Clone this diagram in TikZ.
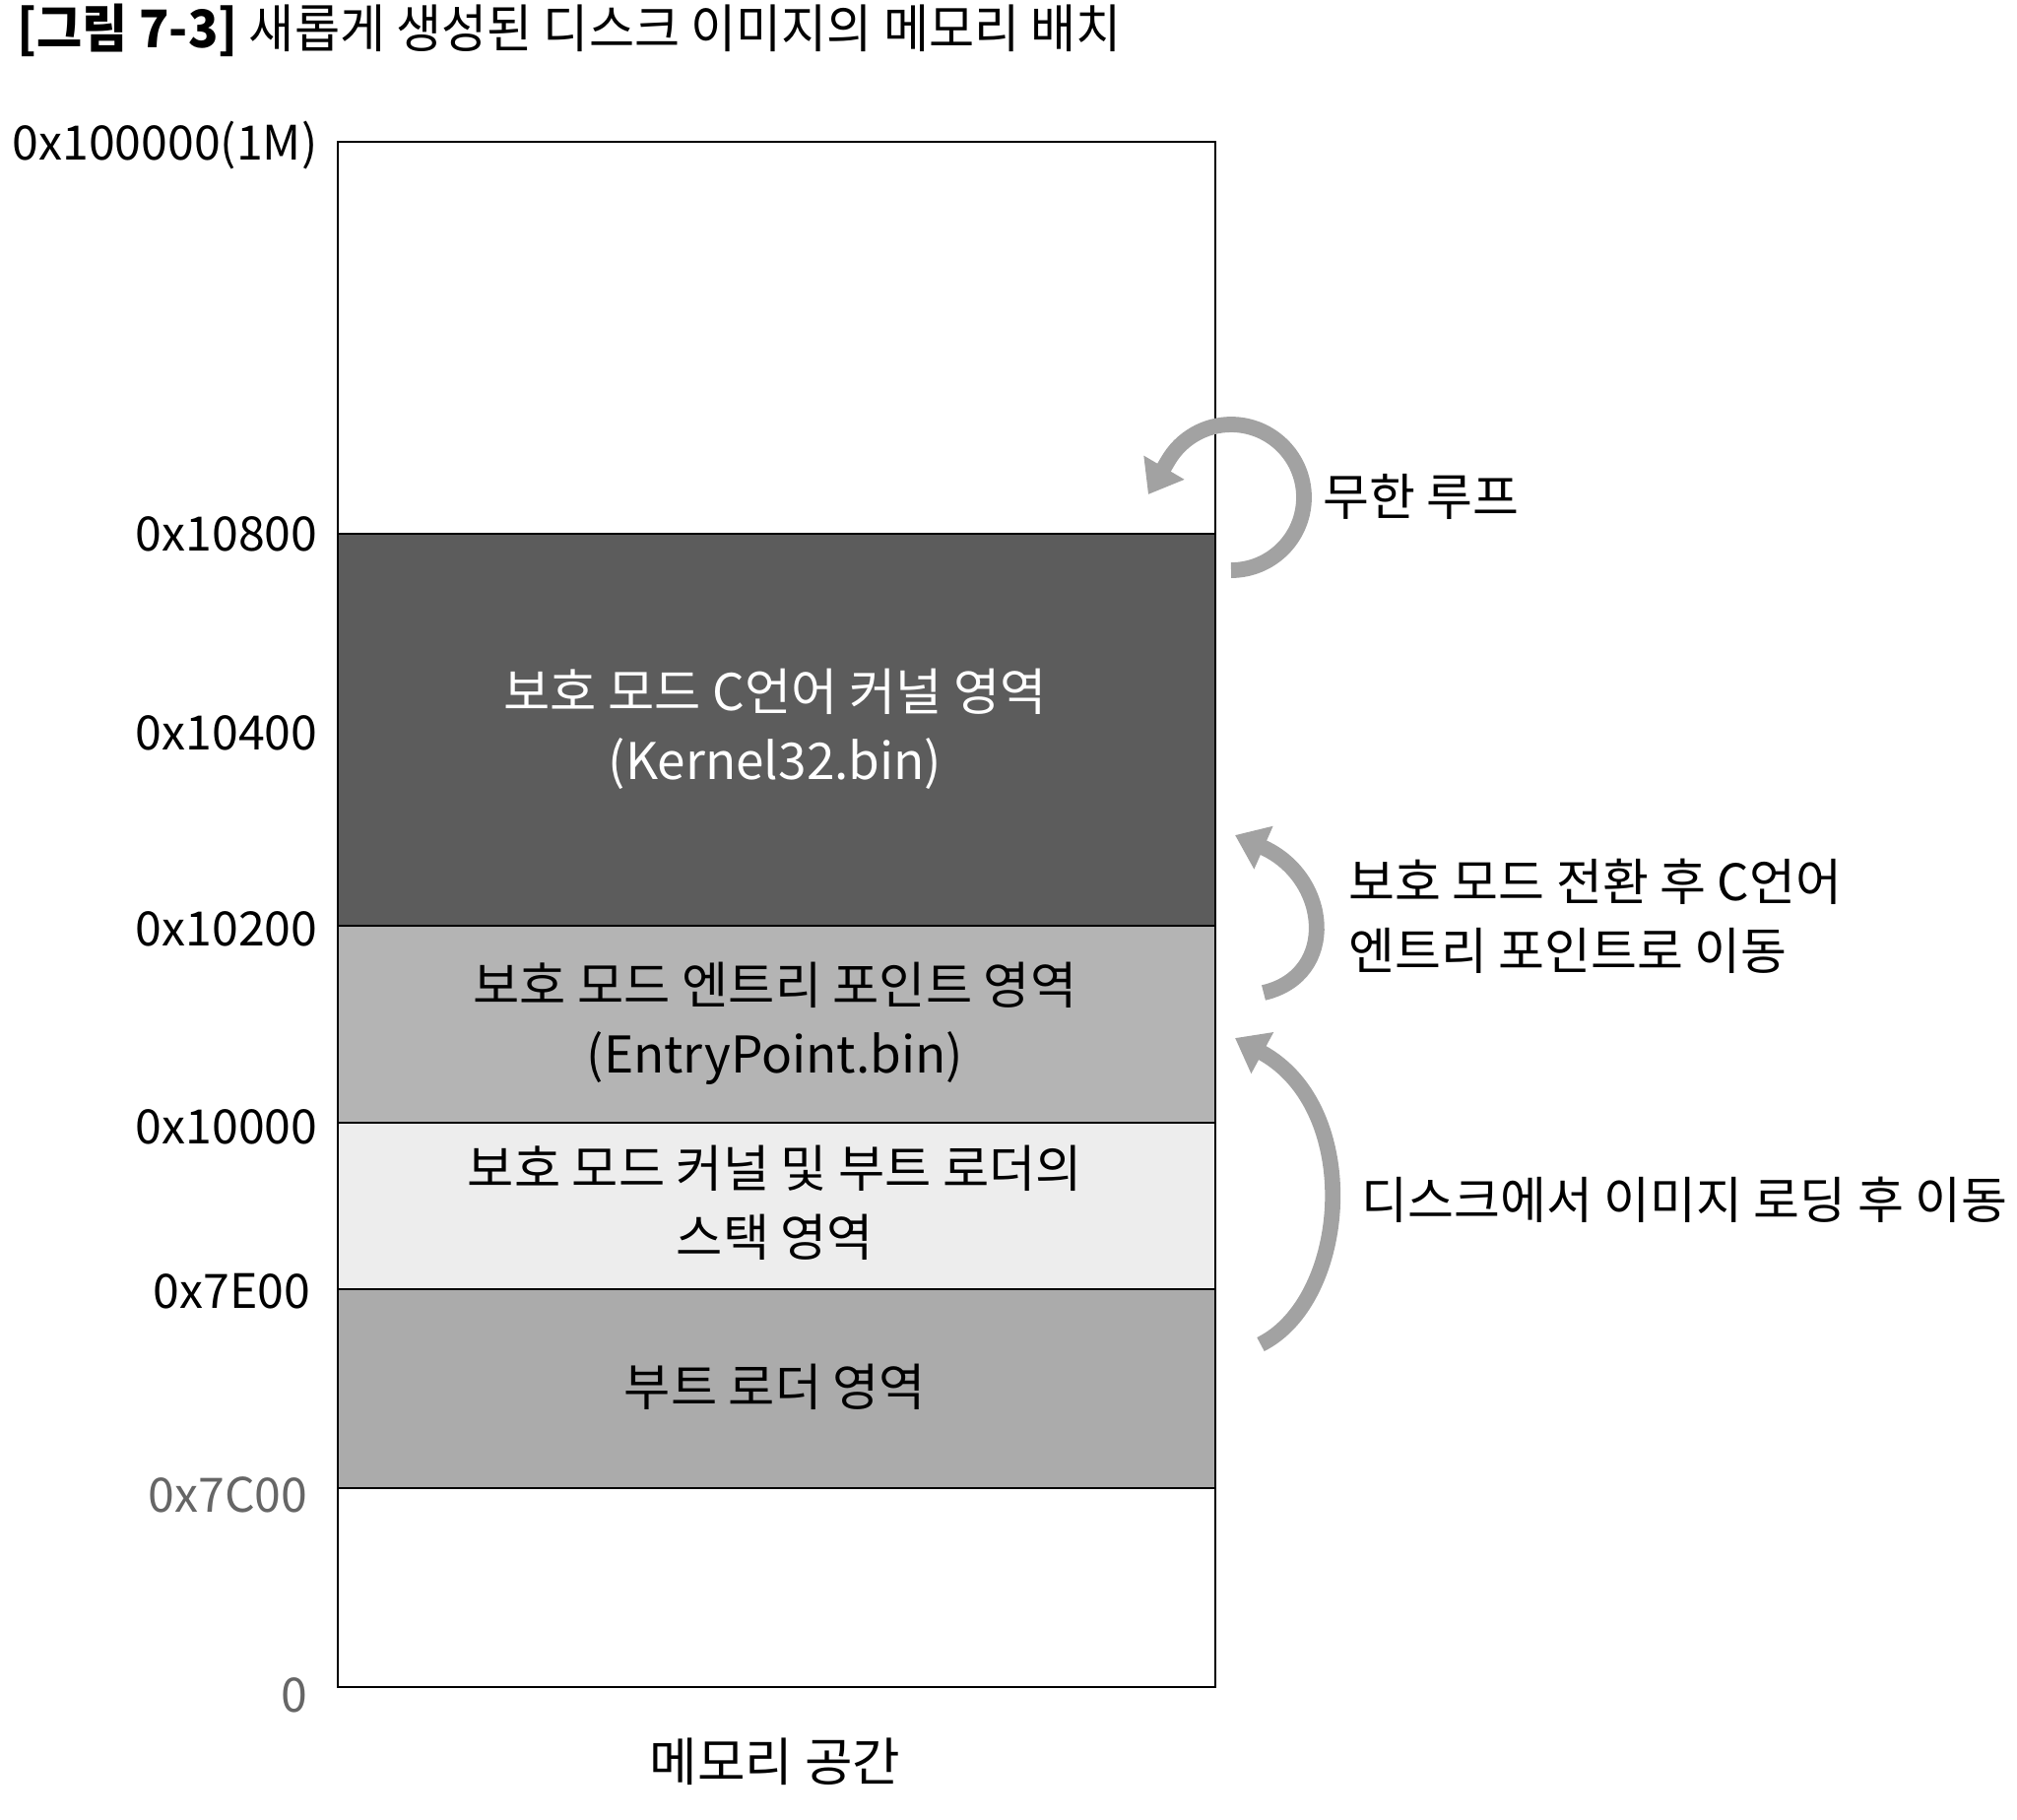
\documentclass[tikz,border=0pt]{standalone}
\usepackage{fontspec}
\setmainfont{Noto Sans CJK KR}
\usetikzlibrary{arrows.meta}

\definecolor{kernelgray}{HTML}{5C5C5C}
\definecolor{entrygray}{HTML}{B4B4B4}
\definecolor{stackgray}{HTML}{EDEDED}
\definecolor{bootgray}{HTML}{ABABAB}
\definecolor{flowgray}{HTML}{A2A2A2}

\tikzset{
    addr/.style={anchor=east, inner sep=0pt, font=\fontsize{13.7}{16}\selectfont},
    area/.style={align=center, inner sep=0pt, font=\fontsize{14.6}{19.8}\selectfont},
    note/.style={anchor=west, align=left, inner sep=0pt, font=\fontsize{14.5}{19.8}\selectfont},
    flow/.style={draw=flowgray, line width=4.5pt, -{Triangle[width=13pt,length=9pt]}},
}

\begin{document}
\begin{tikzpicture}[x=0.01cm, y=-0.01cm]

    \useasboundingbox (0,0) rectangle (2048,1847);

    % title
    \node[anchor=west, inner sep=0pt, font=\fontsize{15}{17}\selectfont] (title) at (17,31)
        {\scalebox{0.95}[1]{{\bfseries [그림 7-3]} 새롭게 생성된 디스크 이미지의 메모리 배치}};

    % memory areas
    \fill[kernelgray] (343,542) rectangle (1234,940);
    \fill[entrygray] (343,940) rectangle (1234,1140);
    \fill[stackgray] (343,1140) rectangle (1234,1309);
    \fill[bootgray] (343,1309) rectangle (1234,1511);

    \draw[line width=.8pt] (343,144) rectangle (1234,1713);
    \draw[line width=.8pt] (343,542) -- (1234,542);
    \draw[line width=.8pt] (343,940) -- (1234,940);
    \draw[line width=.8pt] (343,1140) -- (1234,1140);
    \draw[line width=.8pt] (343,1309) -- (1234,1309);
    \draw[line width=.8pt] (343,1511) -- (1234,1511);

    \node[area, text=white] (kernel) at (787,740) {보호 모드 C언어 커널 영역\\(Kernel32.bin)};
    \node[area] (entry) at (787,1039) {보호 모드 엔트리 포인트 영역\\(EntryPoint.bin)};
    \node[area] (stack) at (787,1221) {보호 모드 커널 및 부트 로더의\\스택 영역};
    \node[area] (boot) at (787,1408) {부트 로더 영역};

    \node[area, font=\fontsize{15}{18}\selectfont] (space) at (787,1789) {메모리 공간};

    % addresses
    \node[addr] (a1M) at (323,148) {0x100000(1M)};
    \node[addr] (a10800) at (323,542) {0x10800};
    \node[addr] (a10400) at (323,744) {0x10400};
    \node[addr] (a10200) at (323,943) {0x10200};
    \node[addr] (a10000) at (323,1144) {0x10000};
    \node[addr] (a7E00) at (316,1311) {0x7E00};
    \node[addr, text=black!60] (a7C00) at (313,1518) {0x7C00};
    \node[addr, text=black!60] (a0) at (313,1721) {0};

    % flow arrows
    \coordinate (loopc) at (1250,505);
    \draw[flow] (loopc) ++(90:74) arc[start angle=90, end angle=-150, radius=74] -- ++(-20,34);

    \coordinate (jumptail) at (1283,1008);
    \coordinate (jumphead) at (1254,848);
    \draw[flow] (jumptail) .. controls (1360,990) and (1350,890) .. (jumphead);

    \coordinate (loadtail) at (1280,1365);
    \coordinate (loadhead) at (1254,1054);
    \draw[flow] (loadtail) .. controls (1370,1320) and (1385,1125) .. (loadhead);

    \node[note] (loop) at (1343,504) {무한 루프};
    \node[note] (jump) at (1369,930) {보호 모드 전환 후 C언어\\엔트리 포인트로 이동};
    \node[note] (load) at (1382,1218) {디스크에서 이미지 로딩 후 이동};

\end{tikzpicture}
\end{document}
